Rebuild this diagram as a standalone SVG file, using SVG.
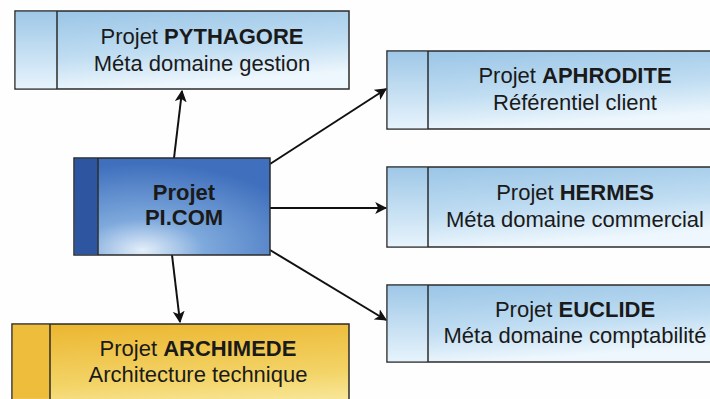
<svg xmlns="http://www.w3.org/2000/svg" width="710" height="399" viewBox="0 0 710 399">
<style>
.box{stroke:#2b2b2b;stroke-width:1.5}
.div{stroke:#2b2b2b;stroke-width:1.5}
text{font-family:"Liberation Sans",Arial,sans-serif;font-size:22px;fill:#1a1a1a;text-anchor:middle}
.b{font-weight:bold}
.conn{stroke:#111;stroke-width:2;fill:none;marker-end:url(#ah)}
</style>
<defs>
<linearGradient id="blue" x1="0" y1="0" x2="0.3" y2="1">
<stop offset="0" stop-color="#98c4e6"/>
<stop offset="0.6" stop-color="#c0ddf2"/>
<stop offset="1" stop-color="#eef7fd"/>
</linearGradient>
<linearGradient id="bluestrip" x1="0" y1="0" x2="0" y2="1">
<stop offset="0" stop-color="#9fc8e7"/>
<stop offset="1" stop-color="#e6f3fc"/>
</linearGradient>
<radialGradient id="center" cx="0.35" cy="0.95" r="0.9">
<stop offset="0" stop-color="#e4effa"/>
<stop offset="0.35" stop-color="#7ea9dc"/>
<stop offset="1" stop-color="#3f6fbd"/>
</radialGradient>
<linearGradient id="yellow" x1="0" y1="0" x2="0.2" y2="1">
<stop offset="0" stop-color="#ebb52e"/>
<stop offset="0.7" stop-color="#f3d468"/>
<stop offset="1" stop-color="#f8e79a"/>
</linearGradient>
<marker id="ah" viewBox="0 0 10 10" refX="9" refY="5" markerWidth="12" markerHeight="12" markerUnits="userSpaceOnUse" orient="auto">
<path d="M0,0 L10,5 L0,10 L2.5,5 z" fill="#111"/>
</marker>
</defs>
<rect width="710" height="399" fill="#fefefe"/>
<g id="connectors">
<line class="conn" x1="174" y1="158" x2="182" y2="91"/>
<line class="conn" x1="172" y1="255" x2="180" y2="322"/>
<line class="conn" x1="270" y1="164" x2="386" y2="89"/>
<line class="conn" x1="270" y1="208" x2="386" y2="208"/>
<line class="conn" x1="270" y1="250" x2="386" y2="320"/>
</g>
<g id="pythagore">
<rect class="box" x="15" y="11" width="334" height="78" fill="url(#blue)"/>
<rect x="15.75" y="11.75" width="41" height="76.5" fill="url(#bluestrip)"/>
<line class="div" x1="57" y1="11" x2="57" y2="89"/>
<text x="202" y="44">Projet <tspan class="b">PYTHAGORE</tspan></text>
<text x="202" y="71">Méta domaine gestion</text>
</g>
<g id="picom">
<rect class="box" x="74" y="158" width="196" height="97" fill="url(#center)"/>
<rect x="74.75" y="158.75" width="23" height="95.5" fill="#2e559f"/>
<line class="div" x1="98" y1="158" x2="98" y2="255"/>
<text class="b" x="184" y="200">Projet</text>
<text class="b" x="184" y="225">PI.COM</text>
</g>
<g id="archimede">
<rect class="box" x="12" y="324" width="337" height="90" fill="url(#yellow)"/>
<rect x="12.75" y="324.75" width="37" height="74" fill="#eebd3c"/>
<line class="div" x1="50" y1="324" x2="50" y2="399"/>
<text x="198" y="356">Projet <tspan class="b">ARCHIMEDE</tspan></text>
<text x="198" y="382">Architecture technique</text>
</g>
<g id="aphrodite">
<rect class="box" x="387" y="51" width="340" height="78" fill="url(#blue)"/>
<rect x="387.75" y="51.75" width="40" height="76.5" fill="url(#bluestrip)"/>
<line class="div" x1="428" y1="51" x2="428" y2="129"/>
<text x="575" y="83">Projet <tspan class="b">APHRODITE</tspan></text>
<text x="575" y="110">Référentiel client</text>
</g>
<g id="hermes">
<rect class="box" x="387" y="167" width="340" height="80" fill="url(#blue)"/>
<rect x="387.75" y="167.75" width="40" height="78.5" fill="url(#bluestrip)"/>
<line class="div" x1="428" y1="167" x2="428" y2="247"/>
<text x="575" y="200">Projet <tspan class="b">HERMES</tspan></text>
<text x="575" y="227">Méta domaine commercial</text>
</g>
<g id="euclide">
<rect class="box" x="387" y="285" width="340" height="77" fill="url(#blue)"/>
<rect x="387.75" y="285.75" width="40" height="75.5" fill="url(#bluestrip)"/>
<line class="div" x1="428" y1="285" x2="428" y2="362"/>
<text x="575" y="317">Projet <tspan class="b">EUCLIDE</tspan></text>
<text x="575" y="343">Méta domaine comptabilité</text>
</g>
</svg>
